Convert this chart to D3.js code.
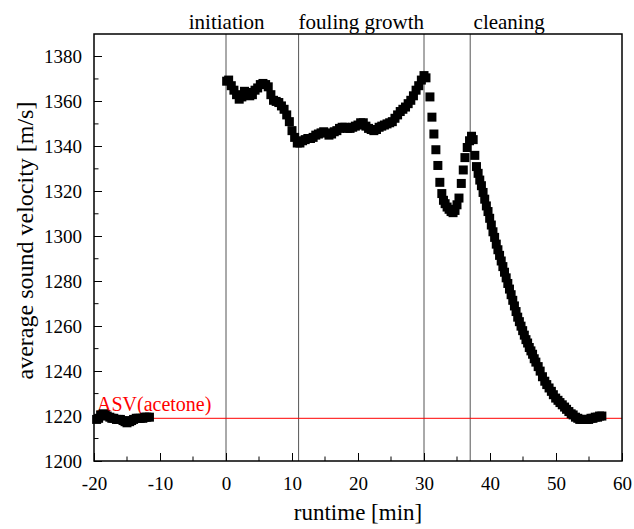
<!DOCTYPE html>
<meta charset="utf-8">
<style>
 body { margin: 0; background: #fff; }
 .axis path, .axis line { stroke: #000; shape-rendering: crispEdges; }
</style>
<body>
<script src="https://cdn.jsdelivr.net/npm/d3@7"></script>
<script>

 // runtime [min], average sound velocity [m/s]
 var baseline = [
     [-19.6,1218.5],[-19.3,1219],[-19.0,1220.5],[-18.6,1221],[-18.3,1220.5],[-18.0,1220],
     [-17.6,1219.5],[-17.3,1219],[-17.0,1219],[-16.6,1218.5],[-16.3,1218.5],[-16.0,1218.5],
     [-15.6,1218],[-15.3,1217.5],[-15.0,1217],[-14.6,1217.5],[-14.3,1218],[-14.0,1218.5],
     [-13.6,1219],[-13.3,1219],[-13.0,1219],[-12.6,1219],[-12.3,1219.5],[-12.0,1219.5],[-11.6,1219.5]
 ];

 var fouling = [
     [0.1,1369],[0.4,1369.5],[0.8,1367],[1.2,1365],[1.6,1363],[2.0,1361],[2.4,1362],[2.8,1364.5],
     [3.2,1364],[3.6,1362.5],[4.0,1363],[4.4,1365],[4.8,1366],[5.2,1367.5],[5.6,1368],[6.0,1367.5],
     [6.4,1366.5],[6.8,1363],[7.2,1360.5],[7.6,1360],[8.0,1359.5],[8.4,1358],[8.8,1356.5],[9.2,1354],
     [9.6,1351],[10.0,1347],[10.4,1344],[10.8,1341.5],[11.2,1341.5],[11.6,1342.5],[12.0,1343],
     [12.4,1343.5],[12.8,1343.5],[13.2,1344],[13.6,1345],[14.0,1345.5],[14.4,1346],[14.8,1346.5],
     [15.2,1346],[15.6,1345],[16.0,1345.5],[16.4,1346.5],[16.8,1347],[17.2,1348],[17.6,1348.5],
     [18.0,1348.5],[18.4,1348],[18.8,1348],[19.2,1348.5],[19.6,1349],[20.0,1349.5],[20.4,1350.5],
     [20.8,1350.5],[21.2,1349],[21.6,1348],[22.0,1347.5],[22.4,1347],[22.8,1347.5],[23.2,1348.5],
     [23.6,1349],[24.0,1349.5],[24.4,1350],[24.8,1350.5],[25.2,1351],[25.6,1352.5],[26.0,1354],
     [26.4,1355.5],[26.8,1356.5],[27.2,1357.5],[27.6,1359],[28.0,1360.5],[28.4,1362.5],[28.8,1365],
     [29.2,1367],[29.6,1369.5],[30.0,1371.5],[30.3,1370.5]
 ];

 var cleaning = [
     [30.9,1362],[31.2,1353],[31.5,1345.5],[31.8,1338.5],[32.1,1331.5],[32.4,1324],[32.7,1319],
     [32.95,1316],[33.2,1314.5],[33.5,1313],[33.8,1312],[34.1,1311],[34.4,1310.5],[34.7,1311.5],
     [35.0,1314],[35.3,1317],[35.65,1323.5],[35.95,1329.5],[36.2,1335],[36.55,1339.5],[36.9,1342.5],
     [37.2,1344.5],[37.45,1343],[37.7,1336],[37.95,1331],[38.2,1328],[38.45,1325],[38.7,1322.5],
     [38.95,1319.5],[39.2,1316.5],[39.45,1313.5],[39.7,1311],[39.95,1308],[40.2,1305],[40.45,1302],
     [40.7,1299.5],[40.95,1296.5],[41.2,1294],[41.45,1291.5],[41.7,1289],[41.95,1286.5],[42.2,1284],
     [42.45,1281.5],[42.7,1279],[42.95,1276.5],[43.2,1274],[43.45,1271.5],[43.7,1269],[43.95,1266.5],
     [44.2,1264],[44.45,1262],[44.7,1260],[44.95,1258],[45.2,1256],[45.45,1254],[45.7,1252.5],
     [45.95,1250.5],[46.2,1249],[46.45,1247.5],[46.7,1245.5],[46.95,1244],[47.3,1242],[47.6,1240],
     [47.95,1237.5],[48.3,1235.5],[48.6,1234],[48.95,1232.5],[49.3,1231],[49.6,1229.5],[49.95,1228],
     [50.3,1227],[50.6,1226],[50.95,1225],[51.3,1224],[51.6,1223],[51.95,1222],[52.3,1221],
     [52.6,1220.5],[52.95,1219.5],[53.3,1219],[53.6,1218.5],[53.95,1218.5],[54.3,1218.5],[54.6,1218.5],
     [54.95,1218.5],[55.3,1219],[55.6,1219],[55.95,1219.5],[56.3,1219.5],[56.6,1220],[56.95,1220]
 ];

 var phaseLines = [0, 11, 30, 37];
 var phases = [
     {label: "initiation", x: 0.1},
     {label: "fouling growth", x: 20.5},
     {label: "cleaning", x: 42.9}
 ];
 var asvAcetone = 1219;

 var xTicks = [-20, -10, 0, 10, 20, 30, 40, 50, 60];
 var yTicks = [1200, 1220, 1240, 1260, 1280, 1300, 1320, 1340, 1360, 1380];

 var serif = "Liberation Serif";

 var margin = {top: 34, right: 12, bottom: 68, left: 94},
     width = 634 - margin.left - margin.right,
     height = 529 - margin.top - margin.bottom;

 var xScale = d3.scaleLinear().domain([-20, 60]).range([0, width]);
 var yScale = d3.scaleLinear().domain([1200, 1390]).range([height, 0]);

 var svg = d3.select("body").append("svg")
             .attr("width", 634)
             .attr("height", 529)
             .append("g")
             .attr("transform", "translate(" + margin.left + "," + margin.top + ")");

 // phase separators
 svg.selectAll(".phase-line")
    .data(phaseLines)
    .enter().append("line")
    .attr("x1", function(d) { return xScale(d); })
    .attr("x2", function(d) { return xScale(d); })
    .attr("y1", 0)
    .attr("y2", height)
    .attr("stroke", "#555")
    .attr("stroke-width", 1);

 svg.selectAll(".phase-label")
    .data(phases)
    .enter().append("text")
    .attr("x", function(d) { return xScale(d.x); })
    .attr("y", -5)
    .attr("text-anchor", "middle")
    .style("font-family", serif)
    .style("font-size", "21px")
    .text(function(d) { return d.label; });

 // ASV(acetone) reference
 svg.append("line")
    .attr("x1", 0).attr("x2", width)
    .attr("y1", yScale(asvAcetone)).attr("y2", yScale(asvAcetone))
    .attr("stroke", "#ff0000")
    .attr("stroke-width", 1);

 svg.append("text")
    .attr("x", 3)
    .attr("y", yScale(asvAcetone) - 7)
    .attr("fill", "#ff0000")
    .style("font-family", serif)
    .style("font-size", "20px")
    .text("ASV(acetone)");

 // the points
 var data = baseline.concat(fouling, cleaning);
 var s = 9;
 svg.selectAll(".point")
    .data(data)
    .enter().append("rect")
    .attr("x", function(d) { return xScale(d[0]) - s / 2; })
    .attr("y", function(d) { return yScale(d[1]) - s / 2; })
    .attr("width", s)
    .attr("height", s)
    .attr("fill", "#000");

 // axes, ticks inside
 var xAxis = d3.axisBottom(xScale).tickValues(xTicks).tickSize(-8).tickPadding(16).tickFormat(d3.format("d"));
 var yAxis = d3.axisLeft(yScale).tickValues(yTicks).tickSize(-8).tickPadding(12).tickFormat(d3.format("d"));

 var gX = svg.append("g").attr("class", "axis")
             .attr("transform", "translate(0," + height + ")")
             .call(xAxis);
 gX.attr("font-family", serif);
 gX.select(".domain").remove();
 gX.selectAll("text")
   .style("font-family", serif).style("font-size", "19px").attr("fill", "#000")
   .text(function(d) { return d < 0 ? "-" + Math.abs(d) : d; });

 var gY = svg.append("g").attr("class", "axis").call(yAxis);
 gY.attr("font-family", serif);
 gY.select(".domain").remove();
 gY.selectAll("text")
   .style("font-family", serif).style("font-size", "19px").attr("fill", "#000");

 // minor ticks
 svg.selectAll(".xminor")
    .data(d3.range(-15, 60, 10))
    .enter().append("line")
    .attr("x1", function(d) { return xScale(d); })
    .attr("x2", function(d) { return xScale(d); })
    .attr("y1", height).attr("y2", height - 4.5)
    .attr("stroke", "#000");

 svg.selectAll(".yminor")
    .data(d3.range(1210, 1390, 20))
    .enter().append("line")
    .attr("x1", 0).attr("x2", 4.5)
    .attr("y1", function(d) { return yScale(d); })
    .attr("y2", function(d) { return yScale(d); })
    .attr("stroke", "#000");

 // frame
 svg.append("rect")
    .attr("width", width)
    .attr("height", height)
    .attr("fill", "none")
    .attr("stroke", "#000")
    .attr("stroke-width", 1.5);

 svg.append("text")
    .attr("x", width / 2)
    .attr("y", height + 59)
    .attr("text-anchor", "middle")
    .style("font-family", serif)
    .style("font-size", "23px")
    .text("runtime [min]");

 svg.append("text")
    .attr("transform", "translate(" + (-61) + "," + (height / 2 - 7) + ") rotate(-90)")
    .attr("text-anchor", "middle")
    .style("font-family", serif)
    .style("font-size", "24px")
    .text("average sound velocity [m/s]");

</script>
</body>
